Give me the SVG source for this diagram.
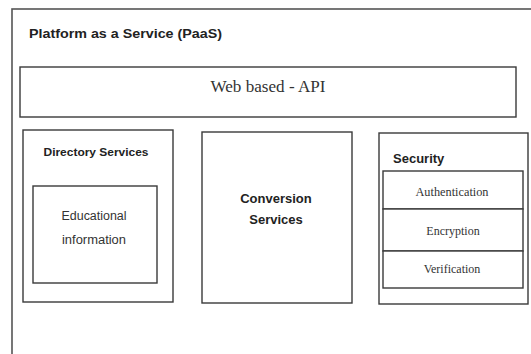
<svg xmlns="http://www.w3.org/2000/svg" width="531" height="354" viewBox="0 0 531 354">
<style>
.box{fill:#fff;stroke:#3a3a3a;stroke-width:1.4}
.outer{fill:#fff;stroke:#555;stroke-width:1.6}
.sansb{font-family:"Liberation Sans",Arial,sans-serif;font-weight:bold;fill:#222}
.sans{font-family:"Liberation Sans",Arial,sans-serif;fill:#333}
.serif{font-family:"Liberation Serif","Times New Roman",serif;fill:#333}
</style>
<rect width="531" height="354" fill="#fff"/>
<g id="paas">
<rect class="outer" x="12" y="9" width="530" height="360"/>
<text class="sansb" x="29" y="38" font-size="13" textLength="193" lengthAdjust="spacingAndGlyphs">Platform as a Service (PaaS)</text>
</g>
<g id="web-api">
<rect class="box" x="20" y="67" width="496" height="50"/>
<text class="serif" x="268" y="92" font-size="16" text-anchor="middle" textLength="115" lengthAdjust="spacingAndGlyphs">Web based - API</text>
</g>
<g id="directory">
<rect class="box" x="23" y="130" width="150" height="172"/>
<text class="sansb" x="96" y="156" font-size="11" text-anchor="middle" textLength="105" lengthAdjust="spacingAndGlyphs">Directory Services</text>
</g>
<g id="educational">
<rect class="box" x="33" y="186" width="124" height="97"/>
<text class="sans" x="94" y="220" font-size="12" text-anchor="middle" textLength="65" lengthAdjust="spacingAndGlyphs">Educational</text>
<text class="sans" x="94" y="244" font-size="12" text-anchor="middle" textLength="64" lengthAdjust="spacingAndGlyphs">information</text>
</g>
<g id="conversion">
<rect class="box" x="202" y="132" width="150" height="171"/>
<text class="sansb" x="276" y="203" font-size="13" text-anchor="middle">Conversion</text>
<text class="sansb" x="276" y="224" font-size="13" text-anchor="middle">Services</text>
</g>
<g id="security">
<rect class="box" x="379" y="133" width="149" height="171"/>
<text class="sansb" x="393" y="163" font-size="13">Security</text>
</g>
<g id="authentication">
<rect class="box" x="383" y="171" width="140" height="38"/>
<text class="serif" x="452" y="196" font-size="12" text-anchor="middle" textLength="73" lengthAdjust="spacingAndGlyphs">Authentication</text>
</g>
<g id="encryption">
<rect class="box" x="383" y="209" width="140" height="42"/>
<text class="serif" x="453" y="235" font-size="12" text-anchor="middle">Encryption</text>
</g>
<g id="verification">
<rect class="box" x="383" y="251" width="140" height="37"/>
<text class="serif" x="452" y="273" font-size="12" text-anchor="middle">Verification</text>
</g>
<g id="connectors"></g>
</svg>
